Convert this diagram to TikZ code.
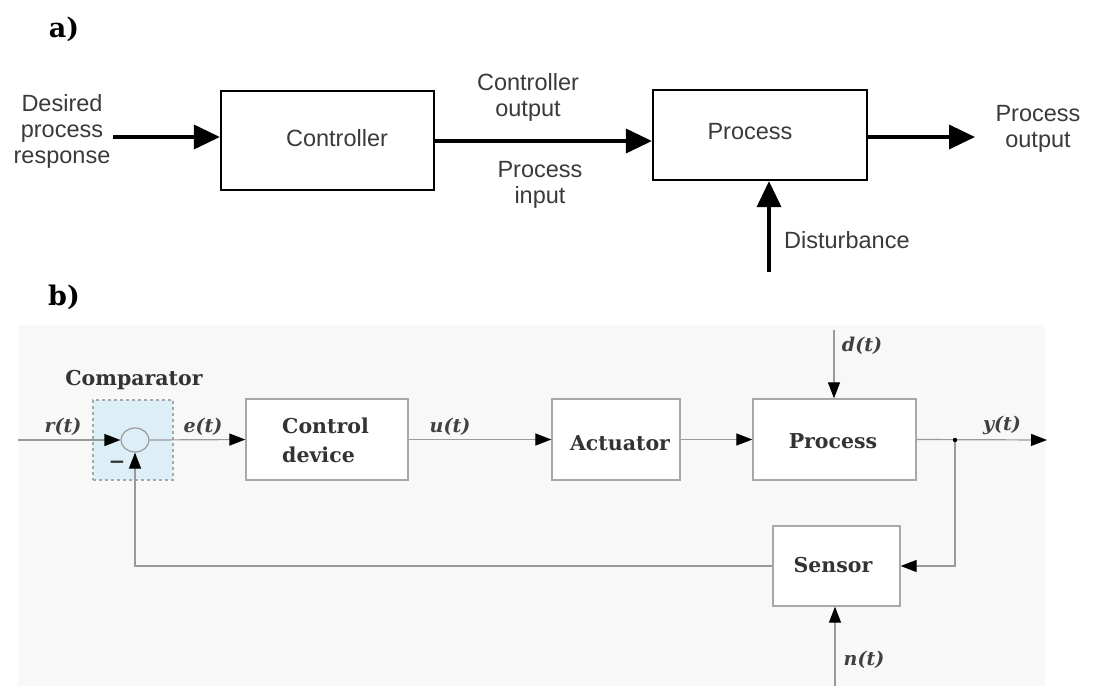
\documentclass[tikz,border=0pt]{standalone}
\usepackage{fontspec}
\setmainfont{DejaVu Serif}
\newfontfamily\asans{Liberation Sans}
\usetikzlibrary{arrows.meta,shapes.geometric}
\definecolor{txtA}{HTML}{3A3A3A}
\definecolor{lineB}{HTML}{9A9A9A}
\definecolor{boxB}{HTML}{A8A8A8}
\definecolor{bgB}{HTML}{F8F8F8}
\definecolor{compfill}{HTML}{DCEFF7}
\begin{document}
\begin{tikzpicture}[x=1pt,y=-1pt,
  atext/.style={font=\asans\fontsize{23.5}{26}\selectfont, text=txtA, align=center, inner sep=0pt},
  abox/.style={draw=black, line width=2.2pt, fill=white},
  aarrow/.style={line width=3.6pt, -{Triangle[length=26pt,width=24pt]}},
  btext/.style={font=\bfseries\fontsize{20.5}{29}\selectfont, text=black!80, align=center, inner sep=0pt},
  blabel/.style={font=\bfseries\itshape\fontsize{19}{22}\selectfont, text=black!75, inner sep=0pt},
  bbox/.style={draw=boxB, line width=1.3pt, fill=white},
  barrow/.style={draw=lineB, line width=1.2pt, -{Triangle[length=16pt,width=12pt,color=black]}},
  plabel/.style={font=\bfseries\fontsize{27}{30}\selectfont, inner sep=0pt}
]
\useasboundingbox (0,0) rectangle (1095,686);
\fill[white] (0,0) rectangle (1095,686);

% ---------- a) ----------
\node[plabel] (la) at (64,29) {a)};
\node[atext] (desired) at (62,131) {Desired\\process\\response};
\node[abox, minimum width=213pt, minimum height=99pt] (ctrl) at (327.5,140.5) {};
\node[atext] (ctrlt) at (337,138) {Controller};
\node[abox, minimum width=214pt, minimum height=90pt] (proc) at (760,135) {};
\node[atext] (proct) at (750,132) {Process};
\node[atext] (cout) at (528,97) {Controller\\output};
\node[atext] (pin) at (540,185) {Process\\input};
\node[atext] (pout) at (1038,129) {Process\\output};
\node[atext, anchor=west] (dist) at (784,240) {Disturbance};
\coordinate (dstart) at (113,137);
\coordinate (pend) at (975,137);
\coordinate (disbot) at (769,272);
\draw[aarrow] (dstart) -- (dstart -| ctrl.west);
\draw[aarrow] (ctrl.east |- 0,141) -- (proc.west |- 0,141);
\draw[aarrow] (proc.east |- pend) -- (pend);
\draw[aarrow] (disbot) -- (disbot |- proc.south);

% ---------- b) ----------
\node[plabel] (lb) at (64,297) {b)};
\fill[bgB] (18,325) rectangle (1045,686);
\node[btext] (comptxt) at (134,380) {Comparator};
\node[draw=boxB, dashed, line width=1.2pt, fill=compfill, minimum width=80pt, minimum height=80pt, inner sep=0pt] (comp) at (133,440) {};
\node[draw=lineB, line width=1.2pt, ellipse, minimum width=28pt, minimum height=24pt, inner sep=0pt, fill=compfill] (sum) at (135,440) {};
\node[font=\bfseries\fontsize{20}{22}\selectfont, text=black!80, inner sep=0pt] (minus) at (117,465) {\textminus};

\node[bbox, minimum width=162pt, minimum height=81pt] (cdev) at (327,439.5) {};
\node[btext, align=left, anchor=west] (cdevt) at (282,440) {Control\\device};
\node[bbox, minimum width=128pt, minimum height=81pt] (act) at (616,439.5) {};
\node[btext] (actt) at (620,443) {Actuator};
\node[bbox, minimum width=163pt, minimum height=81pt] (bproc) at (834.5,439.5) {};
\node[btext] (bproct) at (833,441) {Process};
\node[bbox, minimum width=127pt, minimum height=80pt] (sens) at (836.5,566) {};
\node[btext] (senst) at (833,565) {Sensor};

\coordinate (rin) at (18,440);
\coordinate (yout) at (1047,440);
\coordinate (tap) at (955,440);
\coordinate (dtop) at (834,330);
\coordinate (nbot) at (835,686);

\draw[barrow] (rin) -- (sum.west);
\draw[barrow] (sum.east) -- (cdev.west);
\draw[barrow] (cdev.east) -- (act.west);
\draw[barrow] (act.east) -- (bproc.west);
\draw[barrow] (bproc.east) -- (yout);
\draw[barrow] (dtop) -- (dtop |- bproc.north);
\draw[barrow] (tap) |- (sens.east);
\draw[barrow] (nbot) -- (nbot |- sens.south);
\draw[barrow] (sens.west) -| (sum.south);
\fill[black] (tap) circle (2.2pt);

\node[blabel] (rt) at (63,427) {r(t)};
\node[blabel] (et) at (203,427) {e(t)};
\node[blabel] (ut) at (450,427) {u(t)};
\node[blabel] (yt) at (1002,425) {y(t)};
\node[blabel] (dt) at (862,346) {d(t)};
\node[blabel] (nt) at (864,660) {n(t)};
\end{tikzpicture}
\end{document}
